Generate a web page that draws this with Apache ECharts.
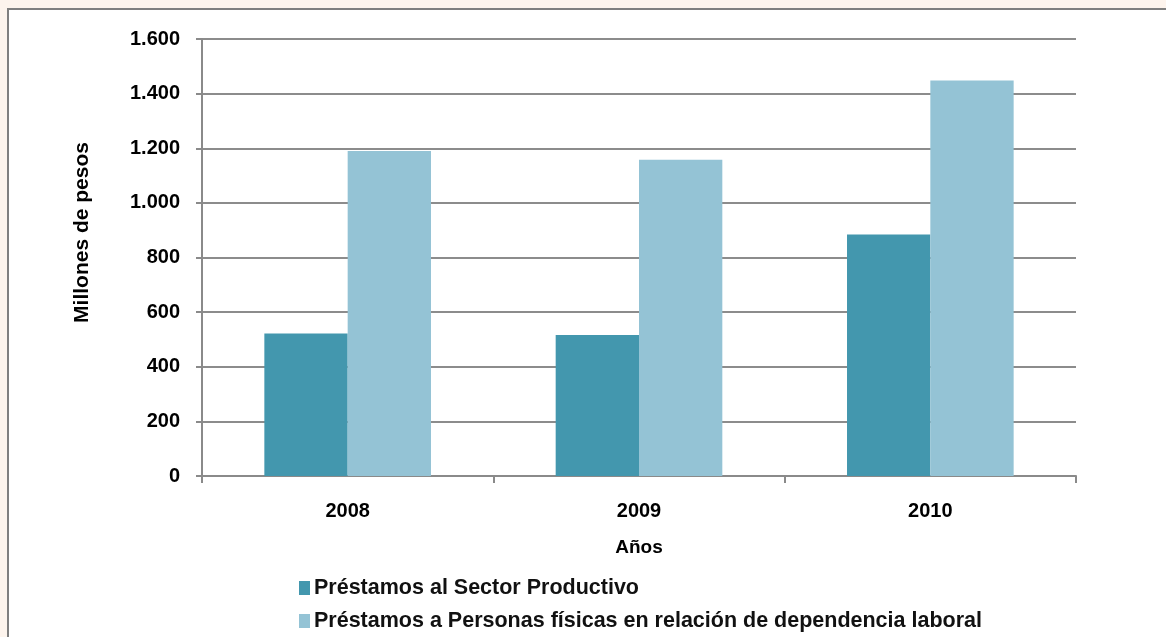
<!DOCTYPE html>
<html>
<head>
<meta charset="utf-8">
<script src="https://cdn.jsdelivr.net/npm/echarts@6/dist/echarts.min.js"></script>
<style>
  html, body { margin: 0; padding: 0; background: #fdf4ed; overflow: hidden; }
  #frame { position: absolute; left: 7px; top: 8px; width: 1170px; height: 640px; background: #fff; border: 2px solid #7f7f7f; }
  #chart { position: absolute; left: 0; top: 0; width: 1166px; height: 637px; }
</style>
</head>
<body>
<div id="frame"></div>
<div id="chart"></div>
<script>
const years = ['2008', '2009', '2010'];
const sectorProductivo = [522, 516, 884];
const personasFisicas = [1190, 1158, 1448];
const seriesNames = [
  'Préstamos al Sector Productivo',
  'Préstamos a Personas físicas en relación de dependencia laboral'
];

const chart = echarts.init(document.getElementById('chart'));
const fmt = v => String(v).replace(/\B(?=(\d{3})+(?!\d))/g, '.');

// one legend per line so they stack like the original
const legendRow = (name, top) => ({
  left: 299,
  top: top,
  padding: 0,
  itemWidth: 11,
  itemHeight: 14,
  icon: 'rect',
  textStyle: { fontSize: 21.5, fontWeight: 'bold', color: '#111', padding: [0, 0, 0, -1] },
  data: [name]
});

chart.setOption({
  animation: false,
  textStyle: { fontFamily: 'Liberation Sans, Arial, sans-serif' },
  grid: { left: 202, right: 90, top: 39, bottom: 161 },
  legend: [legendRow(seriesNames[0], 577), legendRow(seriesNames[1], 610)],
  xAxis: {
    type: 'category',
    data: years,
    name: 'Años',
    nameLocation: 'middle',
    nameGap: 62,
    nameTextStyle: { fontSize: 19, fontWeight: 'bold', color: '#000' },
    axisLine: { lineStyle: { color: '#8a8a8a', width: 2 } },
    axisTick: { show: true, length: 7, lineStyle: { color: '#8a8a8a', width: 2 } },
    axisLabel: { fontSize: 20, fontWeight: 'bold', color: '#000', margin: 25 }
  },
  yAxis: {
    type: 'value',
    min: 0,
    max: 1600,
    interval: 200,
    name: 'Millones de pesos',
    nameLocation: 'middle',
    nameGap: 109,
    nameRotate: 90,
    nameTextStyle: { fontSize: 21, fontWeight: 'bold', color: '#000', padding: [0, 0, 0, 50] },
    axisLine: { show: true, lineStyle: { color: '#8a8a8a', width: 2 } },
    axisTick: { show: true, length: 6, lineStyle: { color: '#8a8a8a', width: 2 } },
    axisLabel: { fontSize: 20, fontWeight: 'bold', color: '#000', margin: 22, formatter: fmt },
    splitLine: { lineStyle: { color: '#8c8c8c', width: 2 } }
  },
  series: [
    {
      name: seriesNames[0],
      type: 'bar',
      data: sectorProductivo,
      barWidth: '28.6%',
      barGap: '0%',
      itemStyle: { color: '#4397ae' }
    },
    {
      name: seriesNames[1],
      type: 'bar',
      data: personasFisicas,
      barWidth: '28.6%',
      itemStyle: { color: '#94c3d5' }
    }
  ]
});
</script>
</body>
</html>
